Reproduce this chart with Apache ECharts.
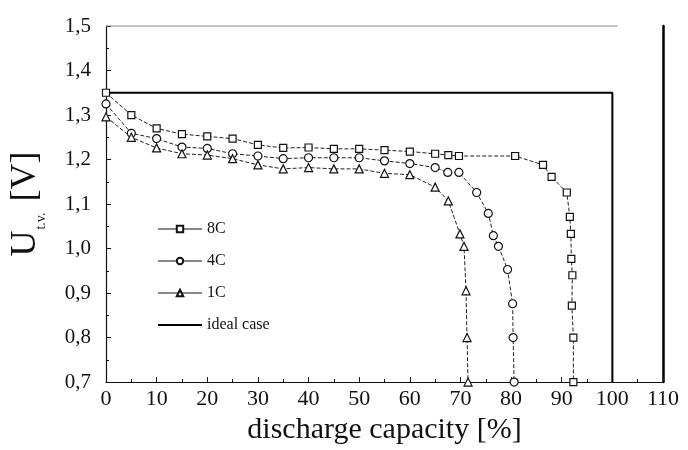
<!DOCTYPE html>
<html><head><meta charset="utf-8">
<script src="https://cdn.jsdelivr.net/npm/echarts@6/dist/echarts.min.js"></script>
<style>html,body{margin:0;padding:0;background:#fff}#c{width:688px;height:450px}</style>
</head><body><div id="c"></div>
<script>
var xTicks = [0,10,20,30,40,50,60,70,80,90,100,110];
var yTicks = [0.7,0.8,0.9,1.0,1.1,1.2,1.3,1.4,1.5];
var seriesNames = ['8C','4C','1C','ideal case'];
var data8C = [[0,1.35],[5,1.30],[10,1.27],[15,1.257],[20,1.252],[25,1.247],[30,1.233],[35,1.226],[40,1.227],[45,1.224],[50,1.224],[55,1.221],[60,1.218],[65,1.213],[67.6,1.21],[69.7,1.208],[80.8,1.208],[86.3,1.188],[88,1.161],[91,1.126],[91.6,1.071],[91.8,1.033],[91.9,0.977],[92.1,0.94],[92,0.872],[92.3,0.80],[92.3,0.70]];
var data4C = [[0,1.325],[5,1.259],[10,1.247],[15,1.228],[20,1.225],[25,1.213],[30,1.208],[35,1.202],[40,1.204],[45,1.204],[50,1.204],[55,1.197],[60,1.191],[65,1.182],[67.5,1.171],[69.7,1.171],[73.2,1.126],[75.5,1.079],[76.5,1.029],[77.5,1.005],[79.3,0.953],[80.3,0.876],[80.4,0.80],[80.6,0.70]];
var data1C = [[0,1.296],[5,1.25],[10,1.226],[15,1.213],[20,1.21],[25,1.202],[30,1.188],[35,1.179],[40,1.182],[45,1.179],[50,1.179],[55,1.169],[60,1.166],[65,1.138],[67.6,1.107],[69.9,1.033],[70.7,1.005],[71.1,0.905],[71.3,0.80],[71.5,0.70]];
var dataIdeal = [[0,1.35],[100,1.35],[100,0.7]];
var frameTop = [[0,1.5],[101,1.5]];

var serif = '"Liberation Serif","DejaVu Serif",serif';
var chart = echarts.init(document.getElementById('c'), null, {renderer:'canvas'});
function mk(name, data, sym, size){
  return {name:name, type:'line', data:data, symbol:sym, symbolSize:size, clip:false,
    showSymbol:true, lineStyle:{color:'#222', width:1, type:[4,2]},
    itemStyle:{color:'#fff', borderColor:'#111', borderWidth:1.2}, z:3};
}
var legendData = seriesNames.map(function(n, i){
  var d = {name:n, lineStyle:{type:'solid', width:1.2, color:'#111'}};
  if (i === 3) { d.itemStyle = {opacity:0}; d.lineStyle = {type:'solid', width:2, color:'#000'}; }
  return d;
});
chart.setOption({
  animation:false,
  backgroundColor:'#fff',
  grid:{left:106, right:25, top:26, bottom:62},
  legend:{orient:'vertical', left:152, top:216, itemWidth:44, itemHeight:8, itemGap:16,
    data:legendData, textStyle:{fontFamily:serif, fontSize:16, color:'#111'}},
  xAxis:[{type:'value', min:0, max:110, interval:10,
    axisLine:{lineStyle:{color:'#111', width:1.2}},
    axisTick:{inside:true, length:5, lineStyle:{color:'#111'}},
    minorTick:{show:true, splitNumber:2, length:3, lineStyle:{color:'#111'}},
    splitLine:{show:false},
    axisLabel:{fontFamily:serif, fontSize:22, color:'#111', margin:6,
      formatter:function(v){return xTicks.indexOf(v)>=0 ? String(v) : '';}},
    name:'discharge capacity [%]', nameLocation:'middle', nameGap:30,
    nameTextStyle:{fontFamily:serif, fontSize:30, color:'#111'}}],
  yAxis:[{type:'value', min:0.7, max:1.5, interval:0.1,
    axisLine:{show:true, lineStyle:{color:'#111', width:1.2}},
    axisTick:{inside:true, length:5, lineStyle:{color:'#111'}},
    minorTick:{show:true, splitNumber:2, length:3, lineStyle:{color:'#111'}},
    splitLine:{show:false},
    axisLabel:{fontFamily:serif, fontSize:21, color:'#111', margin:15,
      formatter:function(v){return v.toFixed(1).replace('.', ',');}},
    name:'{u|U}{s|t.v.}{u| [V]}', nameLocation:'middle', nameGap:58, nameRotate:90,
    nameTextStyle:{fontFamily:serif, color:'#111',
      rich:{u:{fontFamily:serif, fontSize:36, color:'#111', lineHeight:44, verticalAlign:'middle'},
            s:{fontFamily:serif, fontSize:14, color:'#111', lineHeight:44, verticalAlign:'bottom', padding:[0,2,0,1]}}}},
   {type:'value', position:'right', min:0.7, max:1.5, interval:0.1,
    axisLine:{show:true, lineStyle:{color:'#000', width:2.5}},
    axisTick:{show:false}, axisLabel:{show:false}, splitLine:{show:false}}],
  series:[
    mk('8C', data8C, 'rect', 7),
    mk('4C', data4C, 'circle', 8),
    mk('1C', data1C, 'triangle', 8),
    {name:'ideal case', type:'line', data:dataIdeal, symbol:'none', clip:false,
      lineStyle:{color:'#000', width:2}, itemStyle:{color:'#000'}, z:2},
    {name:'frame', type:'line', data:frameTop, symbol:'none', clip:false, silent:true,
      lineStyle:{color:'#888', width:1}, z:1}
  ]
});
</script></body></html>
